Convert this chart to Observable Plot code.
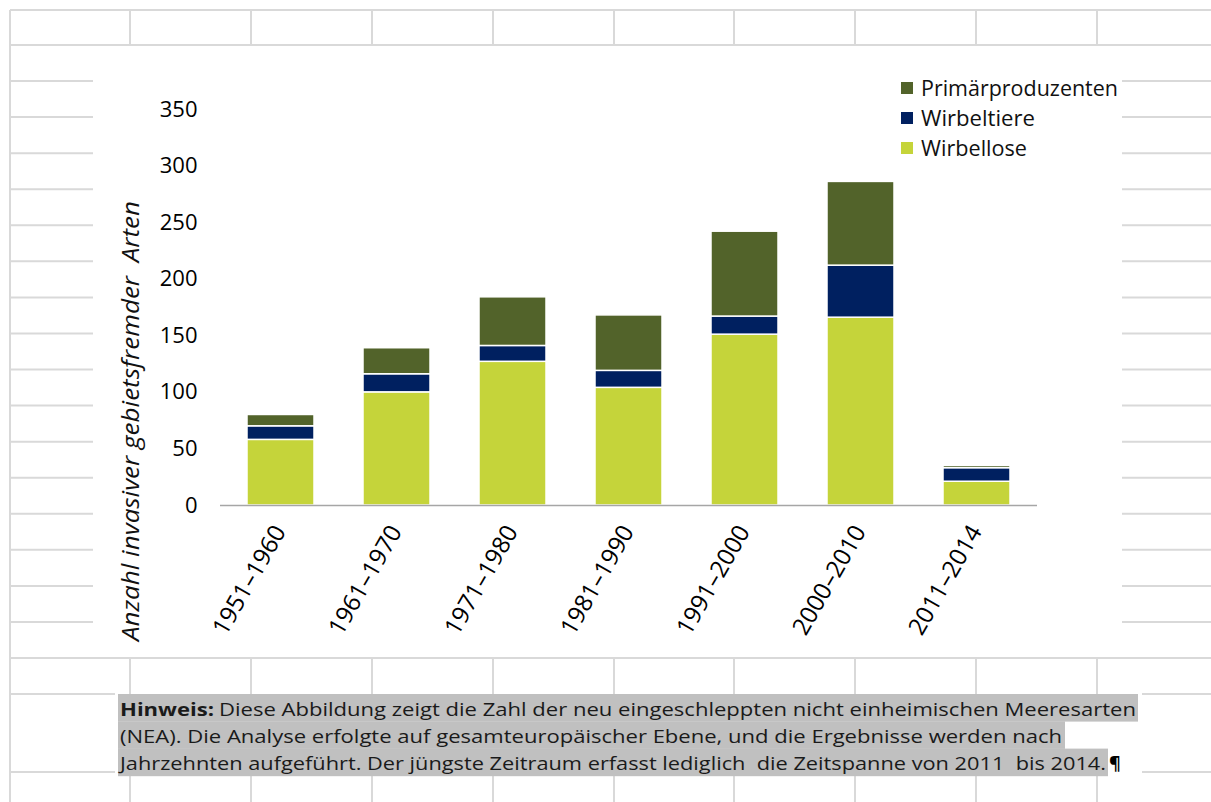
<!DOCTYPE html>
<html><head><meta charset="utf-8">
<script src="https://cdn.jsdelivr.net/npm/d3@7"></script>
<script src="https://cdn.jsdelivr.net/npm/@observablehq/plot@0.6"></script>
<style>
body{margin:0;background:#fff;}
#wrap{position:relative;width:1211px;height:802px;overflow:hidden;}
#wrap svg{position:absolute;left:0;top:0;}
</style>
</head><body><div id="wrap"></div>
<script>
// ---- data ----
const categories = ["1951–1960","1961–1970","1971–1980","1981–1990","1991–2000","2000–2010","2011–2014"];
const wirbellose  = [58, 100, 127, 104, 151, 166, 21];
const wirbeltiere = [12, 16, 14, 15, 16, 46, 12];
const primaer     = [10, 23, 43, 49, 75, 74, 2];
const seriesNames  = ["Wirbellose", "Wirbeltiere", "Primärproduzenten"];
const seriesColors = ["#c5d43a", "#002060", "#52632a"];
const legendOrder  = ["Primärproduzenten", "Wirbeltiere", "Wirbellose"];
const yTicks = [0, 50, 100, 150, 200, 250, 300, 350];
const yLabel = "Anzahl invasiver gebietsfremder\u00a0 Arten";
const captionBold = "Hinweis:";
const captionLines = [
  "Diese Abbildung zeigt die Zahl der neu eingeschleppten nicht einheimischen Meeresarten",
  "(NEA). Die Analyse erfolgte auf gesamteuropäischer Ebene, und die Ergebnisse werden nach",
  "Jahrzehnten aufgeführt. Der jüngste Zeitraum erfasst lediglich\u00a0 die Zeitspanne von 2011\u00a0 bis 2014."
];

const W = 1211, H = 802;
const wrap = d3.select("#wrap");

// ---- spreadsheet background ----
const bg = wrap.append("svg").attr("width", W).attr("height", H);
const gridColor = "#d9d9d9";
function hl(y, x1, x2) { bg.append("line").attr("x1", x1).attr("x2", x2).attr("y1", y).attr("y2", y).attr("stroke", gridColor).attr("stroke-width", 2); }
function vl(x, y1, y2) { bg.append("line").attr("x1", x).attr("x2", x).attr("y1", y1).attr("y2", y2).attr("stroke", gridColor).attr("stroke-width", 2); }
const cols = [130, 251, 372, 493, 614, 734, 855, 976, 1097];
hl(10, 10, W); hl(45, 10, W);
cols.forEach(x => vl(x, 10, 45));
for (let k = 1; k <= 16; k++) { const y = 45 + 36.06 * k; hl(y, 10, 93); hl(y, 1122, W); }
hl(658, 10, W);
cols.forEach(x => vl(x, 658, 694));
hl(694, 10, 115); hl(694, 1142, W);
hl(772, 10, 115); hl(772, 1142, W);
cols.forEach(x => vl(x, 772, 802));
vl(10, 10, 802);

// legend
const colorOf = Object.fromEntries(seriesNames.map((s, i) => [s, seriesColors[i]]));
const legendLens = {"Primärproduzenten": 197, "Wirbeltiere": 114, "Wirbellose": 106};
legendOrder.forEach((s, i) => {
  const cy = 88 + i * 30;
  bg.append("rect").attr("x", 901).attr("y", cy - 6).attr("width", 12).attr("height", 12).attr("fill", colorOf[s]);
  bg.append("text").attr("x", 921).attr("y", cy).attr("dy", "0.36em")
    .attr("font-family", "'Open Sans', sans-serif").attr("font-size", 21).attr("fill", "#111")
    .attr("textLength", legendLens[s]).attr("lengthAdjust", "spacingAndGlyphs").text(s);
});

// y label
bg.append("text").attr("transform", "translate(139,421) rotate(-90)")
  .attr("text-anchor", "middle").attr("font-family", "'Open Sans', sans-serif")
  .attr("font-style", "italic").attr("font-size", 24).attr("fill", "#111")
  .attr("textLength", 440).attr("lengthAdjust", "spacingAndGlyphs").text(yLabel);

// caption
const capTop = 694, capLH = 27.3;
const capEnds = [1138, 1065, 1108];
capEnds.forEach((x2, i) => bg.append("rect").attr("x", 118).attr("y", capTop + i * capLH).attr("width", x2 - 118).attr("height", capLH + 0.3).attr("fill", "#c0c0c0"));
const capFont = "'Open Sans', sans-serif";
bg.append("text").attr("x", 120).attr("y", 715.5).attr("font-family", capFont).attr("font-weight", 700)
  .attr("font-size", 18.5).attr("fill", "#1a1a1a").attr("textLength", 94).attr("lengthAdjust", "spacingAndGlyphs").text(captionBold);
const capStarts = [219, 120, 120];
const capLens = [1136 - 219, 1062 - 120, 1106 - 120];
captionLines.forEach((t, i) => {
  bg.append("text").attr("x", capStarts[i]).attr("y", 715.5 + i * capLH).attr("font-family", capFont)
    .attr("font-size", 18.5).attr("fill", "#1a1a1a").attr("textLength", capLens[i]).attr("lengthAdjust", "spacingAndGlyphs").text(t);
});
bg.append("text").attr("x", 1109).attr("y", 715.5 + 2 * capLH).attr("font-family", capFont)
  .attr("font-size", 18).attr("font-weight", 700).attr("fill", "#000").text("¶");

// ---- chart ----
const data = categories.flatMap((c, i) => [
  {cat: c, series: seriesNames[0], value: wirbellose[i]},
  {cat: c, series: seriesNames[1], value: wirbeltiere[i]},
  {cat: c, series: seriesNames[2], value: primaer[i]}
]);

const chart = Plot.plot({
  width: W, height: H,
  marginLeft: 220, marginRight: 174, marginTop: 109, marginBottom: 297,
  style: {background: "transparent", fontFamily: "'Open Sans', sans-serif", color: "#000"},
  x: {domain: categories, paddingInner: 0.426, paddingOuter: 0.213},
  y: {domain: [0, 350]},
  color: {domain: seriesNames, range: seriesColors},
  marks: [
    Plot.barY(data, {x: "cat", y: "value", fill: "series", stroke: "white", strokeWidth: 1.5}),
    Plot.ruleY([0], {stroke: "#a6a6a6", strokeWidth: 1.5}),
    Plot.axisY({ticks: yTicks, tickSize: 0, tickPadding: 23, fontSize: 22, label: null}),
    Plot.axisX({tickSize: 0, tickRotate: -60, tickPadding: 22, dx: -1, fontSize: 24, label: null})
  ]
});
wrap.node().appendChild(chart);
</script>
</body></html>
